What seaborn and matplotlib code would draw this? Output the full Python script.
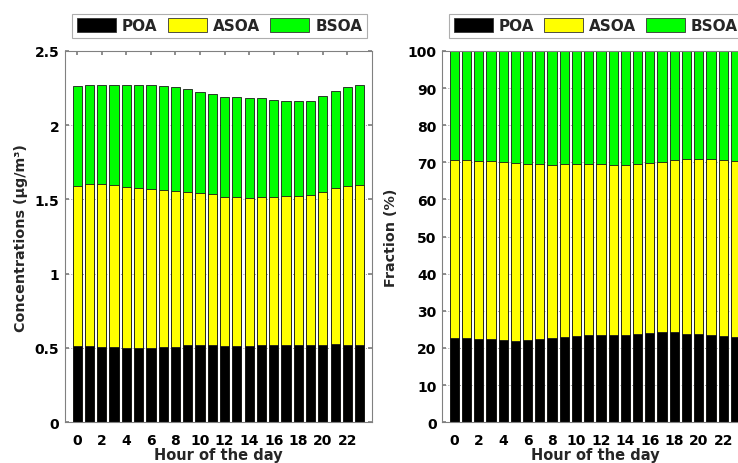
import matplotlib
matplotlib.use("Agg")
import matplotlib.pyplot as plt
from matplotlib.patches import Patch
import seaborn as sns
import pandas as pd
import numpy as np

hours = list(range(24))
species = ["POA", "ASOA", "BSOA"]
colors = {"POA": "#000000", "ASOA": "#FFFF00", "BSOA": "#00FF00"}

# Left panel: concentrations (ug/m3)
poa_conc = [0.511, 0.513, 0.509, 0.507, 0.502, 0.502, 0.502, 0.507, 0.509, 0.518, 0.518, 0.518,
            0.513, 0.513, 0.513, 0.522, 0.522, 0.522, 0.522, 0.518, 0.522, 0.527, 0.522, 0.522]
asoa_conc = [1.082, 1.091, 1.095, 1.088, 1.084, 1.077, 1.068, 1.056, 1.047, 1.034, 1.023, 1.016,
             1.005, 1.001, 0.994, 0.992, 0.992, 0.998, 1.003, 1.011, 1.030, 1.048, 1.069, 1.073]
bsoa_conc = [0.670, 0.666, 0.670, 0.679, 0.688, 0.695, 0.700, 0.704, 0.698, 0.693, 0.684, 0.677,
             0.675, 0.679, 0.677, 0.670, 0.659, 0.646, 0.641, 0.637, 0.643, 0.654, 0.663, 0.675]

# Right panel: fractions (%)
poa_frac = [22.8, 22.6, 22.3, 22.3, 22.1, 21.9, 22.1, 22.3, 22.6, 22.9, 23.3, 23.5,
            23.5, 23.5, 23.6, 23.8, 24.0, 24.2, 24.2, 23.8, 23.8, 23.5, 23.3, 23.0]
asoa_frac = [47.8, 48.0, 48.15, 48.0, 47.9, 47.8, 47.35, 47.15, 46.7, 46.55, 46.15, 45.95,
             45.95, 45.7, 45.6, 45.65, 45.8, 45.9, 46.4, 47.0, 47.2, 47.3, 47.3, 47.45]
bsoa_frac = [29.4, 29.4, 29.55, 29.7, 30.0, 30.3, 30.55, 30.55, 30.7, 30.55, 30.55, 30.55,
             30.55, 30.8, 30.8, 30.55, 30.2, 29.9, 29.4, 29.2, 29.0, 29.2, 29.4, 29.55]

xtick_labels = [str(h) for h in range(0, 24, 2)]
conc_ticks = [0, 0.5, 1, 1.5, 2, 2.5]
conc_tick_labels = ["0", "0.5", "1", "1.5", "2", "2.5"]
frac_ticks = list(range(0, 101, 10))
frac_tick_labels = [str(v) for v in frac_ticks]

sns.set_theme(style="white")
plt.rcParams["font.family"] = ["DejaVu Sans"]
plt.rcParams["font.weight"] = "bold"
plt.rcParams["axes.labelweight"] = "bold"

fig = plt.figure(figsize=(7.38, 4.64), dpi=100)
ax1 = fig.add_axes([0.088, 0.088, 0.416, 0.800])
ax2 = fig.add_axes([0.599, 0.088, 0.414, 0.800])


def stacked(ax, poa, asoa, bsoa):
    poa = np.array(poa)
    asoa = np.array(asoa)
    bsoa = np.array(bsoa)
    layers = [("BSOA", poa + asoa + bsoa), ("ASOA", poa + asoa), ("POA", poa)]
    for name, vals in layers:
        df = pd.DataFrame({"hour": hours, "value": vals})
        sns.barplot(data=df, x="hour", y="value", order=hours, color=colors[name],
                    saturation=1, width=0.75, edgecolor="#1a1a1a", linewidth=0.6,
                    ax=ax, zorder=2)


def style(ax, ylim, yticks, ylabels, ylabel, ylabelpad):
    ax.set_xlim(-1, 24)
    ax.set_ylim(*ylim)
    ax.set_yticks(yticks)
    ax.set_yticklabels(ylabels, fontweight="bold", fontsize=10)
    ax.set_xticks(list(range(0, 24, 2)))
    ax.set_xticklabels(xtick_labels, fontweight="bold", fontsize=10)
    ax.tick_params(axis="both", direction="in", length=3, color="#808080",
                   top=True, right=True, bottom=True, left=True,
                   labelcolor="black")
    ax.tick_params(axis="x", pad=8)
    ax.tick_params(axis="y", pad=4)
    ax.yaxis.grid(True, linestyle=(0, (1, 2)), color="#9a9a9a", linewidth=0.7)
    ax.set_axisbelow(True)
    for s in ax.spines.values():
        s.set_color("#808080")
        s.set_linewidth(0.8)
    ax.set_xlabel("Hour of the day", fontsize=10.5, fontweight="bold", labelpad=0)
    ax.set_ylabel(ylabel, fontsize=10.3, fontweight="bold", labelpad=ylabelpad)
    handles = [Patch(facecolor=colors[s], edgecolor="#333333", linewidth=0.6, label=s)
               for s in species]
    leg = ax.legend(handles=handles, loc="lower left",
                    bbox_to_anchor=(0.023, 1.035, 0.961, 0.108), mode="expand",
                    ncol=3, frameon=True, fancybox=False, borderaxespad=0,
                    handlelength=2.55, handleheight=1.05, handletextpad=0.4,
                    columnspacing=0.6, borderpad=0.3,
                    prop={"weight": "bold", "size": 11})
    leg.get_frame().set_edgecolor("#9a9a9a")
    leg.get_frame().set_linewidth(0.8)


stacked(ax1, poa_conc, asoa_conc, bsoa_conc)
stacked(ax2, poa_frac, asoa_frac, bsoa_frac)

style(ax1, (0, 2.5), conc_ticks, conc_tick_labels, "Concentrations (μg/m³)", 5)
style(ax2, (0, 100), frac_ticks, frac_tick_labels, "Fraction (%)", 7)

fig.savefig("out.png", dpi=100)
